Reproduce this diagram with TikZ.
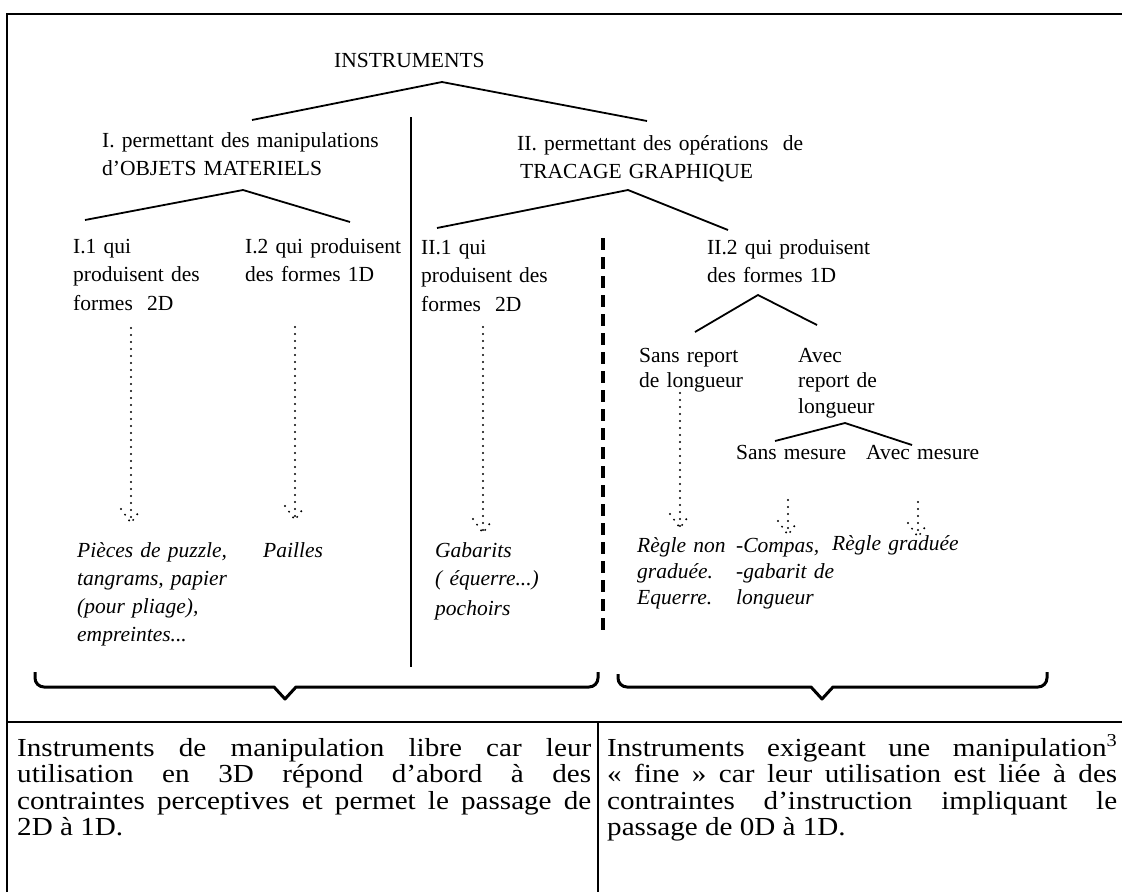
\documentclass[tikz,border=0pt]{standalone}
\usepackage{fontspec}
\setmainfont{Liberation Serif}
\newfontfamily\lowfont{Liberation Serif}[FakeStretch=1.12]
\tikzset{
  lbl/.style={anchor=base west, inner sep=0pt, align=left, text width=400pt,
              font=\fontsize{21.5}{28.5}\selectfont},
  itl/.style={lbl, font=\fontsize{21.5}{28}\selectfont\itshape},
  branch/.style={line width=1.8pt},
  frame/.style={line width=1.4pt},
  dots/.style={line width=2.2pt, line cap=round, dash pattern=on 0pt off 7pt},
  brace/.style={line width=3pt, line join=round},
  cell/.style={anchor=base west, inner sep=0pt, align=justify,
               font=\lowfont\fontsize{26}{26.5}\selectfont}
}
\begin{document}
\begin{tikzpicture}[x=1pt,y=-1pt]
\useasboundingbox (0,0) rectangle (1122,892);
% frame
\draw[frame] (7,892) -- (7,14) -- (1122,14);
\draw[frame] (7,722) -- (1122,722);
\draw[frame] (598,722) -- (598,892);
\draw[line width=1.2pt] (411,117) -- (411,667);
\draw[line width=3.5pt, dash pattern=on 12pt off 7pt] (603,238) -- (603,630);

% texts
\node[lbl] (inst) at (334,67) {INSTRUMENTS};
\node[lbl] (obj) at (102,147) {I. permettant des manipulations\\d'OBJETS MATERIELS};
\node[lbl] (trac) at (517,150) {II. permettant des opérations\ \ de\\\hspace*{3pt}TRACAGE GRAPHIQUE};
\node[lbl] (i1) at (73,253) {I.1 qui\\produisent des\\formes\ \ 2D};
\node[lbl] (i2) at (245,253) {I.2 qui produisent\\des formes 1D};
\node[lbl] (ii1) at (421,254) {II.1 qui\\produisent des\\formes\ \ 2D};
\node[lbl] (ii2) at (707,254) {II.2 qui produisent\\des formes 1D};
\node[lbl, font=\fontsize{21.5}{25.5}\selectfont] (sr) at (639,362) {Sans report\\de longueur};
\node[lbl, font=\fontsize{21.5}{25.5}\selectfont] (ar) at (798,362) {Avec\\report de\\longueur};
\node[lbl] (sm) at (736,459) {Sans mesure};
\node[lbl] (am) at (866,459) {Avec mesure};

\node[itl] (t1) at (77,557) {Pièces de puzzle,\\tangrams, papier\\(pour pliage),\\empreintes...};
\node[itl] (t2) at (263,557) {Pailles};
\node[itl] (t3) at (435,557) {Gabarits\\( équerre...)\\[2pt]pochoirs};
\node[itl, font=\fontsize{21.5}{26}\selectfont\itshape] (t4) at (637,552) {Règle non\\graduée.\\Equerre.};
\node[itl, font=\fontsize{21.5}{26}\selectfont\itshape] (t5) at (736,552) {-Compas,\\-gabarit de\\longueur};
\node[itl] (t6) at (832,550) {Règle graduée};

% tree connectors
\coordinate (a1) at (442,82);  \coordinate (a1l) at (252,120); \coordinate (a1r) at (647,121);
\coordinate (a2) at (243,190); \coordinate (a2l) at (85,220);  \coordinate (a2r) at (350,222);
\coordinate (a3) at (628,190); \coordinate (a3l) at (437,228); \coordinate (a3r) at (728,230);
\coordinate (a4) at (758,295); \coordinate (a4l) at (695,332); \coordinate (a4r) at (817,325);
\coordinate (a5) at (845,423); \coordinate (a5l) at (775,441); \coordinate (a5r) at (912,445);
\foreach \n in {1,...,5} {\draw[branch] (a\n l) -- (a\n) -- (a\n r);}

% dotted arrows
\coordinate (ds1) at (131,328); \coordinate (de1) at (131,523);
\coordinate (ds2) at (295,327); \coordinate (de2) at (295,520);
\coordinate (ds3) at (483,327); \coordinate (de3) at (483,533);
\coordinate (ds4) at (680,393); \coordinate (de4) at (680,528);
\coordinate (ds5) at (788,500); \coordinate (de5) at (788,535);
\coordinate (ds6) at (918,502); \coordinate (de6) at (918,537);
\foreach \n in {1,...,6} {
  \draw[dots] (ds\n) -- (de\n);
  \draw[dots] ([shift={(-10,-14)}]de\n) -- (de\n) -- ([shift={(10,-14)}]de\n);
}

% braces
\draw[brace] (35,672) [rounded corners=9pt] -- (35,687) -- (150,687) [sharp corners] -- (274,687) -- (285,699) -- (296,687) -- (500,687) [rounded corners=9pt] -- (598,687) -- (598,672);
\draw[brace] (618,674) [rounded corners=9pt] -- (618,687) -- (720,687) [sharp corners] -- (811,687) -- (822,699) -- (833,687) -- (950,687) [rounded corners=9pt] -- (1047,687) -- (1047,672);

% lower cells
\node[cell, text width=574pt] (c1) at (17,756) {Instruments de manipulation libre car leur\linebreak utilisation en 3D répond d’abord à des\linebreak contraintes perceptives et permet le passage de\linebreak 2D à 1D.};
\node[cell, text width=510pt] (c2) at (607,756) {Instruments exigeant une manipulation\textsuperscript{3}\linebreak «~fine~» car leur utilisation est liée à des\linebreak contraintes d’instruction impliquant le\linebreak passage de 0D à 1D.};
\end{tikzpicture}
\end{document}
